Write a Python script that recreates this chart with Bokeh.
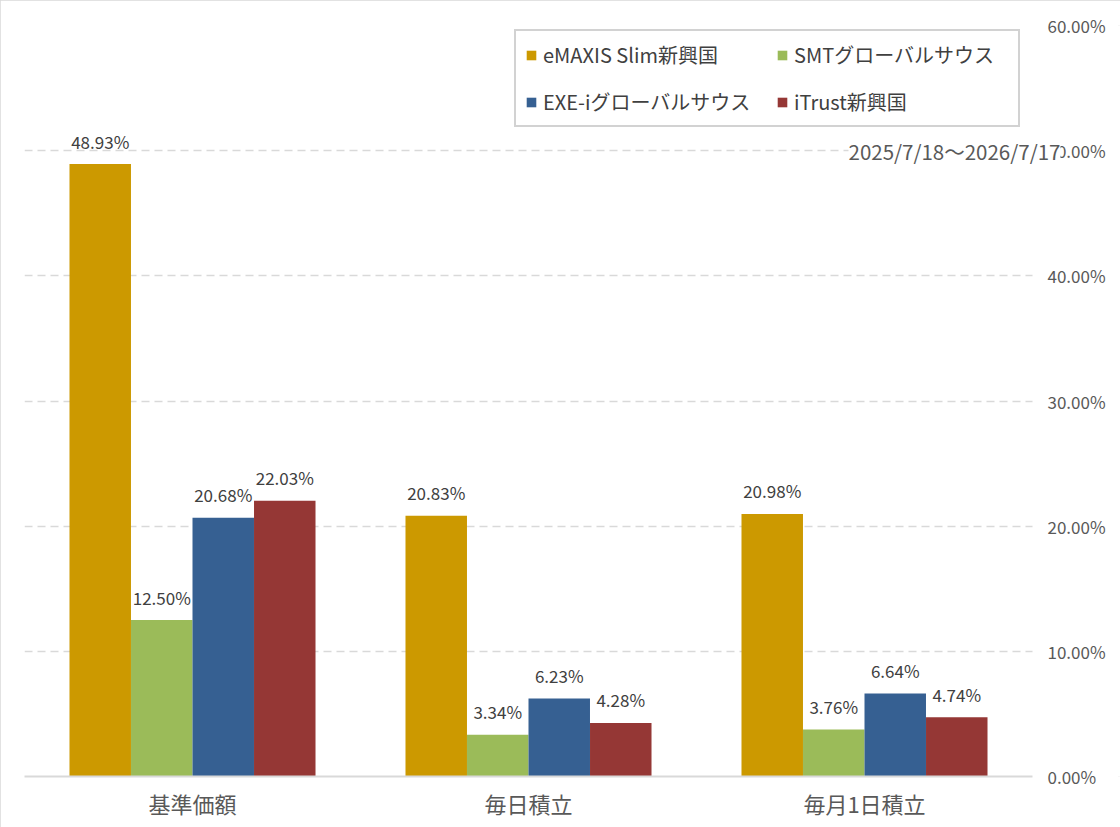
from bokeh.plotting import figure
from bokeh.models import ColumnDataSource, FixedTicker, Label, Legend, LegendItem, Range1d
from bokeh.core.properties import value
from bokeh.embed import file_html
from bokeh.resources import INLINE

categories = ["基準価額", "毎日積立", "毎月1日積立"]
series_names = ["eMAXIS Slim新興国", "SMTグローバルサウス", "EXE-iグローバルサウス", "iTrust新興国"]
emaxis = [48.93, 20.83, 20.98]
smt = [12.50, 3.34, 3.76]
exei = [20.68, 6.23, 6.64]
itrust = [22.03, 4.28, 4.74]
colors = ["#CC9900", "#9BBB59", "#366092", "#953735"]
y_ticks = [0, 10, 20, 30, 40, 50, 60]
y_tick_labels = ["0.00%", "10.00%", "20.00%", "30.00%", "40.00%", "50.00%", "60.00%"]
subtitle = "2025/7/18～2026/7/17"

series = [emaxis, smt, exei, itrust]
offsets = [-0.2746, -0.0915, 0.0915, 0.2746]
bar_w = 0.183
n = len(categories)
centers = [i + 0.5 for i in range(n)]
# frame spans the whole width to the right; the category area occupies 1008 of 1096 px
x_end = n * 1096 / 1008

CJK = "Noto Sans CJK JP"

p = figure(width=1120, height=827, x_range=Range1d(0, x_end), y_range=Range1d(0, 60),
           y_axis_location="right", output_backend="svg", toolbar_location=None,
           min_border_left=24, min_border_top=25, min_border_right=0, min_border_bottom=51)
p.outline_line_color = None
p.background_fill_color = "white"
p.border_fill_color = "white"
p.styles = {"outline": "2px solid #D9D9D9", "outline-offset": "-2px"}

p.xgrid.grid_line_color = None
yg = p.ygrid[0]
yg.ticker = FixedTicker(ticks=y_ticks)
if "cross_bounds" in yg.properties():
    yg.cross_bounds = (0, n)
    yg.grid_line_color = "#D9D9D9"
    yg.grid_line_dash = "8 5"
    yg.grid_line_width = 1.5
else:
    yg.grid_line_color = None
    p.segment(x0=[0] * len(y_ticks), x1=[n] * len(y_ticks), y0=y_ticks, y1=y_ticks,
              line_color="#D9D9D9", line_dash="8 5", line_width=1.5, level="underlay")

xa = p.xaxis[0]
xa.ticker = FixedTicker(ticks=centers)
xa.major_label_overrides = {c: name for c, name in zip(centers, categories)}
xa.bounds = (0, n)
xa.axis_line_color = "#D9D9D9"
xa.axis_line_width = 2
xa.major_tick_line_color = None
xa.minor_tick_line_color = None
xa.major_tick_out = 0
xa.major_tick_in = 0
xa.major_label_text_font = CJK
xa.major_label_text_font_size = "22px"
xa.major_label_text_color = "#595959"
xa.major_label_standoff = 10

ya = p.yaxis[0]
ya.ticker = FixedTicker(ticks=y_ticks)
ya.major_label_overrides = {t: l for t, l in zip(y_ticks, y_tick_labels)}
ya.axis_line_color = None
ya.major_tick_line_color = None
ya.minor_tick_line_color = None
ya.major_tick_out = 0
ya.major_tick_in = 0
ya.major_label_text_font = CJK
ya.major_label_text_font_size = "17px"
ya.major_label_text_color = "#595959"
ya.major_label_standoff = -73

items = []
for name, vals, col, off in zip(series_names, series, colors, offsets):
    src = ColumnDataSource(dict(x=[c + off for c in centers], val=vals,
                                lab=[f"{v:.2f}%" for v in vals]))
    r = p.vbar(x="x", top="val", width=bar_w, bottom=0,
               source=src, fill_color=col, line_color=None)
    p.text(x="x", y="val", text="lab", source=src,
           text_align="center", text_baseline="alphabetic", y_offset=-23,
           text_font=value(CJK), text_font_size="17px", text_color="#404040")
    items.append(LegendItem(label=name, renderers=[r]))

legend = Legend(items=items, location=(490, 649), orientation="horizontal", ncols=2,
                border_line_color="#A6A6A6", border_line_width=2, background_fill_color="white",
                background_fill_alpha=1.0, label_text_font=CJK, label_text_font_size="20px",
                label_text_color="#404040", glyph_width=12, glyph_height=12, label_standoff=6,
                spacing=18, label_width=215, label_height=25, padding=9, margin=0)
p.add_layout(legend)

sub = Label(x=848, y=150, x_units="canvas", y_units="canvas", text=subtitle,
            text_align="left", text_baseline="middle",
            text_font=CJK, text_font_size="20.5px", text_color="#595959",
            background_fill_color="white", background_fill_alpha=1.0)
p.add_layout(sub)

open("out.html", "w").write(file_html(p, INLINE))
